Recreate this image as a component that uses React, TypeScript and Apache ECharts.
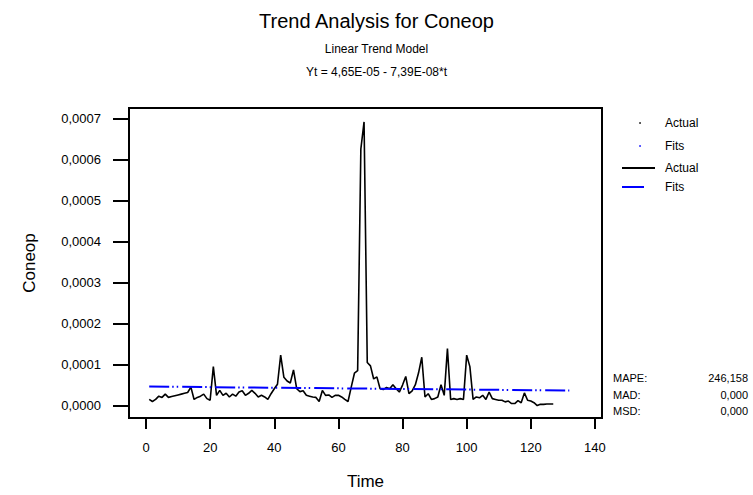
import React, { useEffect, useRef } from "react";
import * as echarts from "echarts";

// Observed series (Coneop), t = 1..127
const actual: number[] = [
  1.5e-5, 1.0e-5, 1.5e-5, 2.3e-5, 2.0e-5, 2.8e-5, 2.0e-5, 2.2e-5, 2.4e-5, 2.6e-5,
  2.8e-5, 3.0e-5, 3.2e-5, 4.5e-5, 1.5e-5, 2.0e-5, 2.3e-5, 2.8e-5, 1.7e-5, 1.3e-5,
  9.5e-5, 2.5e-5, 3.7e-5, 2.5e-5, 3.0e-5, 2.1e-5, 2.8e-5, 2.3e-5, 3.3e-5, 3.6e-5,
  2.5e-5, 3.0e-5, 3.7e-5, 3.0e-5, 2.1e-5, 2.5e-5, 2.1e-5, 1.5e-5, 2.9e-5, 4.1e-5,
  5.2e-5, 12.3e-5, 6.9e-5, 6.0e-5, 5.5e-5, 8.7e-5, 4.1e-5, 3.4e-5, 3.6e-5, 2.5e-5,
  2.3e-5, 2.1e-5, 2.0e-5, 1.0e-5, 3.7e-5, 2.5e-5, 2.6e-5, 2.0e-5, 2.5e-5, 2.5e-5,
  2.1e-5, 1.5e-5, 1.0e-5, 4.5e-5, 7.9e-5, 8.5e-5, 62.6e-5, 69.2e-5, 10.5e-5, 9.7e-5,
  6.5e-5, 7.0e-5, 4.1e-5, 3.9e-5, 4.4e-5, 4.1e-5, 5.1e-5, 4.1e-5, 3.3e-5, 5.0e-5,
  7.1e-5, 2.9e-5, 3.6e-5, 5.1e-5, 8.0e-5, 11.8e-5, 2.1e-5, 2.9e-5, 1.5e-5, 1.7e-5,
  2.1e-5, 5.1e-5, 2.5e-5, 13.9e-5, 1.5e-5, 1.7e-5, 1.5e-5, 1.7e-5, 1.5e-5, 12.3e-5,
  9.5e-5, 1.5e-5, 2.1e-5, 1.9e-5, 2.5e-5, 1.5e-5, 3.3e-5, 1.7e-5, 1.5e-5, 1.3e-5,
  1.3e-5, 0.9e-5, 1.1e-5, 0.5e-5, 0.5e-5, 1.2e-5, 0.7e-5, 3.1e-5, 1.3e-5, 1.1e-5,
  0.7e-5, 0.0, 0.3e-5, 0.3e-5, 0.4e-5, 0.4e-5, 0.4e-5,
];

// Fitted trend line endpoints (t, value)
const fitsTimes: number[] = [1, 132];
const fitsValues: number[] = [4.64e-5, 3.67e-5];

const xTicks: number[] = [0, 20, 40, 60, 80, 100, 120, 140];
const yTicks: number[] = [0, 0.0001, 0.0002, 0.0003, 0.0004, 0.0005, 0.0006, 0.0007];

const statLabels: string[] = ["MAPE:", "MAD:", "MSD:"];
const statValues: string[] = ["246,158", "0,000", "0,000"];

const FONT = "'Liberation Sans', Arial, sans-serif";

export default function App() {
  const ref = useRef<HTMLDivElement>(null);

  useEffect(() => {
    if (!ref.current) return;
    const chart = echarts.init(ref.current, null, { renderer: "svg" });

    const actualData = actual.map((v, i) => [i + 1, v]);
    const fitsData = fitsTimes.map((t, i) => [t, fitsValues[i]]);

    const legendItems = [
      { label: "Actual", y: 123, kind: "dot", color: "#000000" },
      { label: "Fits", y: 146, kind: "dot", color: "#0000ff" },
      { label: "Actual", y: 168, kind: "line", color: "#000000" },
      { label: "Fits", y: 187, kind: "line", color: "#0000ff" },
    ];

    const graphics: any[] = [];
    legendItems.forEach((it) => {
      if (it.kind === "dot") {
        graphics.push({
          type: "circle",
          shape: { cx: 640, cy: it.y, r: 0.8 },
          style: { fill: it.color },
        });
      } else {
        graphics.push({
          type: "line",
          shape: { x1: 622, y1: it.y, x2: it.color === "#000000" ? 655 : 644, y2: it.y },
          style: { stroke: it.color, lineWidth: 2 },
        });
      }
      graphics.push({
        type: "text",
        x: 665,
        y: it.y,
        style: {
          text: it.label,
          fill: "#000",
          font: `12px ${FONT}`,
          verticalAlign: "middle",
          align: "left",
        },
      });
    });
    statLabels.forEach((lab, i) => {
      const y = 378 + i * 16.5;
      graphics.push({
        type: "text",
        x: 613,
        y,
        style: { text: lab, fill: "#000", font: `11px ${FONT}`, verticalAlign: "middle", align: "left" },
      });
      graphics.push({
        type: "text",
        x: 748,
        y,
        style: { text: statValues[i], fill: "#000", font: `11px ${FONT}`, verticalAlign: "middle", align: "right" },
      });
    });

    chart.setOption({
      animation: false,
      backgroundColor: "#ffffff",
      textStyle: { fontFamily: FONT },
      title: [
        {
          text: "Trend Analysis for Coneop",
          left: "center",
          top: 6,
          textStyle: { fontSize: 20, fontWeight: "normal", color: "#000", fontFamily: FONT },
        },
        {
          text: "Linear Trend Model",
          left: "center",
          top: 38,
          textStyle: { fontSize: 12, fontWeight: "normal", color: "#000", fontFamily: FONT },
        },
        {
          text: "Yt = 4,65E-05 - 7,39E-08*t",
          left: "center",
          top: 61,
          textStyle: { fontSize: 12, fontWeight: "normal", color: "#000", fontFamily: FONT },
        },
      ],
      grid: {
        left: 129,
        top: 108,
        width: 473,
        height: 317,
        show: true,
        borderColor: "#000",
        borderWidth: 2,
        backgroundColor: "transparent",
      },
      xAxis: {
        type: "value",
        min: -5.3,
        max: 142.2,
        name: "Time",
        nameLocation: "middle",
        nameGap: 55,
        nameTextStyle: { fontSize: 17, color: "#000", fontFamily: FONT },
        axisLine: { show: false, onZero: false },
        splitLine: { show: false },
        axisTick: {
          show: true,
          length: 11,
          lineStyle: { color: "#000", width: 2 },
          customValues: xTicks,
        },
        axisLabel: {
          color: "#000",
          fontSize: 13,
          margin: 23,
          fontFamily: FONT,
          customValues: xTicks,
        },
      },
      yAxis: {
        type: "value",
        min: -3.03e-5,
        max: 7.26e-4,
        name: "Coneop",
        nameLocation: "middle",
        nameRotate: 90,
        nameGap: 91,
        nameTextStyle: { fontSize: 17, color: "#000", fontFamily: FONT },
        axisLine: { show: false, onZero: false },
        splitLine: { show: false },
        axisTick: {
          show: true,
          length: 16,
          lineStyle: { color: "#000", width: 2 },
          customValues: yTicks,
        },
        axisLabel: {
          color: "#000",
          fontSize: 13,
          margin: 28,
          fontFamily: FONT,
          customValues: yTicks,
          formatter: (v: number) => v.toFixed(4).replace(".", ","),
        },
      },
      series: [
        {
          name: "Fits",
          type: "line",
          data: fitsData,
          symbol: "none",
          lineStyle: { color: "#0000ff", width: 2, type: [20, 3, 1.5, 3, 1.5, 4] },
          z: 3,
        },
        {
          name: "Actual",
          type: "line",
          data: actualData,
          symbol: "none",
          lineStyle: { color: "#000000", width: 1.6 },
          z: 2,
        },
      ],
      graphic: graphics,
    });

    return () => chart.dispose();
  }, []);

  return (
    <div
      ref={ref}
      style={{ position: "fixed", left: 0, top: 0, width: 753, height: 495, background: "#fff" }}
    />
  );
}
